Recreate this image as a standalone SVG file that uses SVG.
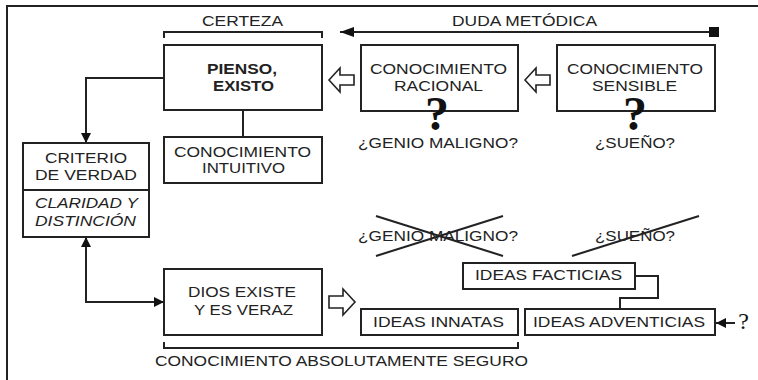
<svg xmlns="http://www.w3.org/2000/svg" width="758" height="380" viewBox="0 0 758 380">
<defs>
<style>
.box{fill:#fff;stroke:#222;stroke-width:2}
.ln{fill:none;stroke:#222;stroke-width:2}
.hol{fill:#fff;stroke:#222;stroke-width:1.6;stroke-linejoin:miter}
text{font-family:"Liberation Sans",Arial,sans-serif;font-size:15px;fill:#222;text-anchor:middle}
.b{font-weight:bold}
.i{font-style:italic}
.q{font-family:"Liberation Serif","Times New Roman",serif;font-weight:bold;font-size:48px;fill:#111}
.qs{font-family:"Liberation Serif","Times New Roman",serif;font-size:24px;fill:#111}
</style>
<marker id="ah" viewBox="0 0 10 10" refX="10" refY="5" markerWidth="10" markerHeight="10" markerUnits="userSpaceOnUse" orient="auto-start-reverse">
<path d="M0,0 L10,5 L0,10 z" fill="#111"/>
</marker>
<marker id="ahl" viewBox="0 0 14 10" refX="14" refY="5" markerWidth="14" markerHeight="10" markerUnits="userSpaceOnUse" orient="auto">
<path d="M0,0 L14,5 L0,10 z" fill="#111"/>
</marker>
</defs>
<rect x="0" y="0" width="758" height="380" fill="#fff"/>
<!-- frame -->
<path class="ln" d="M7,380 V6 H758"/>

<g id="connectors">
<!-- duda metodica -->
<path class="ln" d="M714,32 H340" marker-end="url(#ahl)"/>
<rect x="709" y="27" width="10" height="10" fill="#111"/>
<!-- certeza bracket -->
<path class="ln" d="M164,38 V32 H322 V38"/>
<!-- bottom bracket -->
<path class="ln" d="M164,342 V348 H518 V342"/>
<!-- pienso -> criterio -->
<path class="ln" d="M164,78 H86 V143" marker-end="url(#ah)"/>
<!-- pienso - intuitivo -->
<path class="ln" d="M243,110 V137"/>
<!-- criterio <-> dios -->
<path class="ln" d="M86,237 V302 H164" marker-start="url(#ah)" marker-end="url(#ah)"/>
<!-- facticias - adventicias -->
<path class="ln" d="M635,276 H658 V298 H620 V309"/>
<!-- ? -> adventicias -->
<path class="ln" d="M735,323 H716" marker-end="url(#ah)"/>
<!-- hollow arrows -->
<polygon class="hol" points="329,80 340,68 340,75 354,75 354,85 340,85 340,92"/>
<polygon class="hol" points="525,80 536,68 536,75 550,75 550,85 536,85 536,92"/>
<polygon class="hol" points="355,302 343,289 343,296 329,296 329,308 343,308 343,315"/>
<!-- cross lines -->
<path class="ln" d="M376,216 L503,256 M376,256 L503,216 M572,256 L699,216" stroke-width="1.8"/>
</g>

<g id="certeza"><text x="242.5" y="26" textLength="81" lengthAdjust="spacingAndGlyphs">CERTEZA</text></g>
<g id="duda"><text x="524.5" y="26" textLength="145" lengthAdjust="spacingAndGlyphs">DUDA METÓDICA</text></g>

<g id="pienso">
<rect class="box" x="164" y="45" width="158" height="65"/>
<text class="b" x="242" y="74" textLength="70" lengthAdjust="spacingAndGlyphs">PIENSO,</text>
<text class="b" x="243.5" y="91" textLength="61" lengthAdjust="spacingAndGlyphs">EXISTO</text>
</g>

<g id="racional">
<rect class="box" x="361" y="45" width="157" height="66"/>
<text x="438.5" y="74" textLength="137" lengthAdjust="spacingAndGlyphs">CONOCIMIENTO</text>
<text x="438.5" y="91" textLength="89" lengthAdjust="spacingAndGlyphs">RACIONAL</text>
<text class="q" x="437" y="130">?</text>
<text x="438" y="148" textLength="160" lengthAdjust="spacingAndGlyphs">¿GENIO MALIGNO?</text>
</g>

<g id="sensible">
<rect class="box" x="557" y="45" width="158" height="66"/>
<text x="635" y="74" textLength="136" lengthAdjust="spacingAndGlyphs">CONOCIMIENTO</text>
<text x="634.5" y="91" textLength="85" lengthAdjust="spacingAndGlyphs">SENSIBLE</text>
<text class="q" x="635" y="130">?</text>
<text x="635" y="148" textLength="80" lengthAdjust="spacingAndGlyphs">¿SUEÑO?</text>
</g>

<g id="intuitivo">
<rect class="box" x="164" y="137" width="158" height="46"/>
<text x="242.5" y="157" textLength="137" lengthAdjust="spacingAndGlyphs">CONOCIMIENTO</text>
<text x="243.5" y="173" textLength="83" lengthAdjust="spacingAndGlyphs">INTUITIVO</text>
</g>

<g id="criterio">
<rect class="box" x="23" y="143" width="126" height="94"/>
<line class="ln" x1="23" y1="190" x2="149" y2="190"/>
<text x="86" y="163" textLength="82" lengthAdjust="spacingAndGlyphs">CRITERIO</text>
<text x="86" y="180" textLength="102" lengthAdjust="spacingAndGlyphs">DE VERDAD</text>
<text class="i" x="86.5" y="208" textLength="103" lengthAdjust="spacingAndGlyphs">CLARIDAD Y</text>
<text class="i" x="85.5" y="226" textLength="101" lengthAdjust="spacingAndGlyphs">DISTINCIÓN</text>
</g>

<g id="tachados">
<text x="438" y="241" textLength="160" lengthAdjust="spacingAndGlyphs">¿GENIO MALIGNO?</text>
<text x="635" y="241" textLength="80" lengthAdjust="spacingAndGlyphs">¿SUEÑO?</text>
</g>

<g id="dios">
<rect class="box" x="164" y="269" width="158" height="66"/>
<text x="242" y="297" textLength="108" lengthAdjust="spacingAndGlyphs">DIOS EXISTE</text>
<text x="243.5" y="315" textLength="99" lengthAdjust="spacingAndGlyphs">Y ES VERAZ</text>
</g>

<g id="facticias">
<rect class="box" x="463" y="263" width="172" height="26"/>
<text x="548.5" y="280" textLength="147" lengthAdjust="spacingAndGlyphs">IDEAS FACTICIAS</text>
</g>

<g id="innatas">
<rect class="box" x="361" y="309" width="157" height="26"/>
<text x="438.5" y="327" textLength="131" lengthAdjust="spacingAndGlyphs">IDEAS INNATAS</text>
</g>

<g id="adventicias">
<rect class="box" x="525" y="309" width="190" height="26"/>
<text x="619" y="327" textLength="172" lengthAdjust="spacingAndGlyphs">IDEAS ADVENTICIAS</text>
<text class="qs" x="743.5" y="329">?</text>
</g>

<g id="seguro"><text x="341.5" y="366" textLength="373" lengthAdjust="spacingAndGlyphs">CONOCIMIENTO ABSOLUTAMENTE SEGURO</text></g>
</svg>
